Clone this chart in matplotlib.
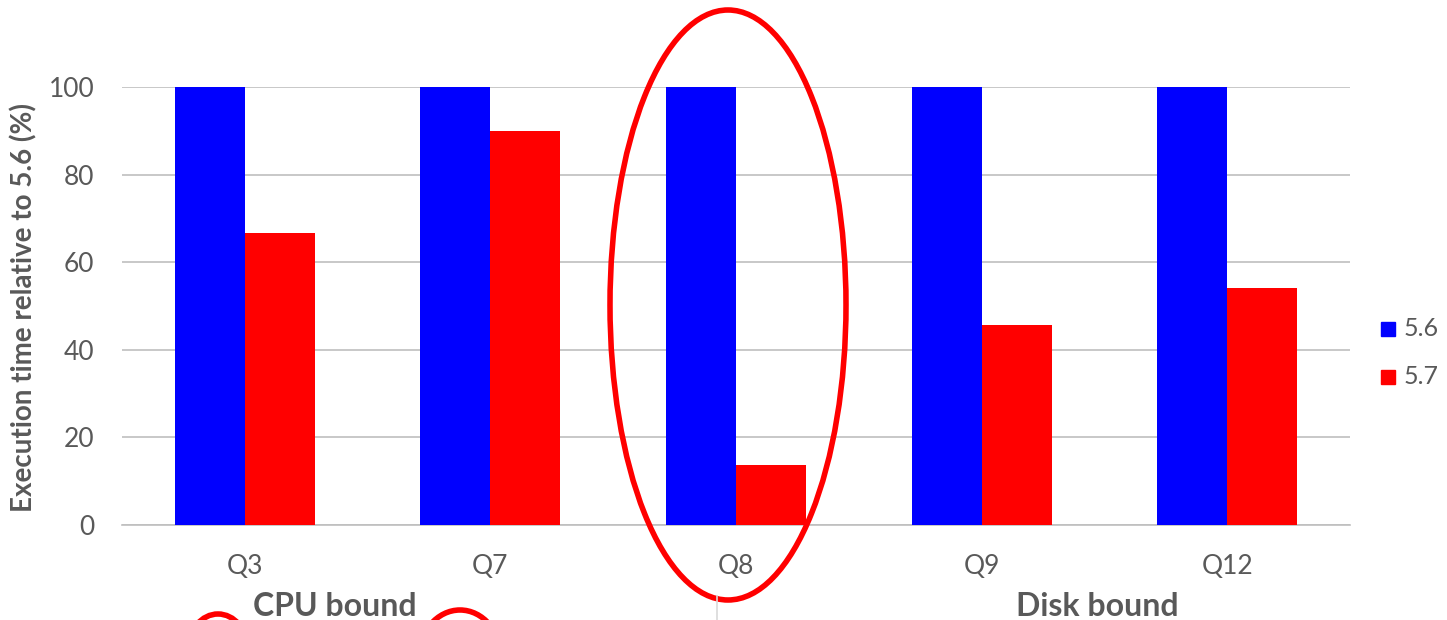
import matplotlib.pyplot as plt
from matplotlib.patches import Ellipse, Rectangle
from matplotlib.lines import Line2D
import numpy as np

plt.rcParams['font.family'] = ['Lato', 'DejaVu Sans']

queries = ['Q3', 'Q7', 'Q8', 'Q9', 'Q12']
v56 = [100, 100, 100, 100, 100]
v57 = [66.7, 90.0, 13.7, 45.7, 54.1]
series = ['5.6', '5.7']
groups = ['CPU bound', 'Disk bound']

BLUE = '#0000ff'
RED = '#ff0000'
GREY = '#595959'

W, H = 1447, 620
fig = plt.figure(figsize=(W / 100, H / 100), dpi=100)
ax = fig.add_axes([122 / W, 1 - 525 / H, (1350 - 122) / W, (525 - 87) / H])

x = np.arange(len(queries))
bw = 0.285
ax.bar(x - bw / 2, v56, bw, color=BLUE, zorder=3)
ax.bar(x + bw / 2, v57, bw, color=RED, zorder=3)

ax.set_xlim(-0.5, len(queries) - 0.5)
ax.set_ylim(0, 100)
ax.set_yticks(range(0, 101, 20))
ax.yaxis.grid(True, color='#bfbfbf', linewidth=1.2, zorder=0)
ax.set_xticks(x)
ax.set_xticklabels(queries)
ax.tick_params(length=0, labelsize=19, colors=GREY)
ax.tick_params(axis='y', pad=20)
ax.tick_params(axis='x', pad=21)
for s in ['top', 'right', 'left']:
    ax.spines[s].set_visible(False)
ax.spines['bottom'].set_color('#bfbfbf')
ax.spines['bottom'].set_linewidth(1.2)

fig.text(24 / W, 1 - 308 / H, 'Execution time relative to 5.6 (%)',
         rotation=90, ha='center', va='center', fontsize=20,
         fontweight='bold', color=GREY)

# group labels under the query names
fig.text(335 / W, 1 - 606 / H, groups[0], ha='center', va='center',
         fontsize=23, fontweight='bold', color=GREY)
fig.text(1097 / W, 1 - 606 / H, groups[1], ha='center', va='center',
         fontsize=23, fontweight='bold', color=GREY)
fig.add_artist(Line2D([717 / W, 717 / W], [0, 1 - 596 / H],
                      color='#d9d9d9', linewidth=1.2))

# legend
for i, (name, col) in enumerate(zip(series, [BLUE, RED])):
    yc = 1 - (329 + 48 * i) / H
    fig.add_artist(Rectangle((1381 / W, yc - 7 / H), 14 / W, 14 / H,
                             transform=fig.transFigure, color=col))
    fig.text(1404 / W, yc, name, ha='left', va='center',
             fontsize=18, color=GREY)

# red highlight marks
fig.add_artist(Ellipse((728 / W, 1 - 305 / H), 236 / W, 590 / H,
                       transform=fig.transFigure, fill=False,
                       edgecolor=RED, linewidth=4, clip_on=False))
fig.add_artist(Ellipse((218 / W, 1 - 650 / H), 60 / W, 72 / H,
                       transform=fig.transFigure, fill=False,
                       edgecolor=RED, linewidth=4, clip_on=False))
fig.add_artist(Ellipse((460 / W, 1 - 660 / H), 84 / W, 100 / H,
                       transform=fig.transFigure, fill=False,
                       edgecolor=RED, linewidth=4, clip_on=False))

fig.savefig('out.png', dpi=100, facecolor='white')
